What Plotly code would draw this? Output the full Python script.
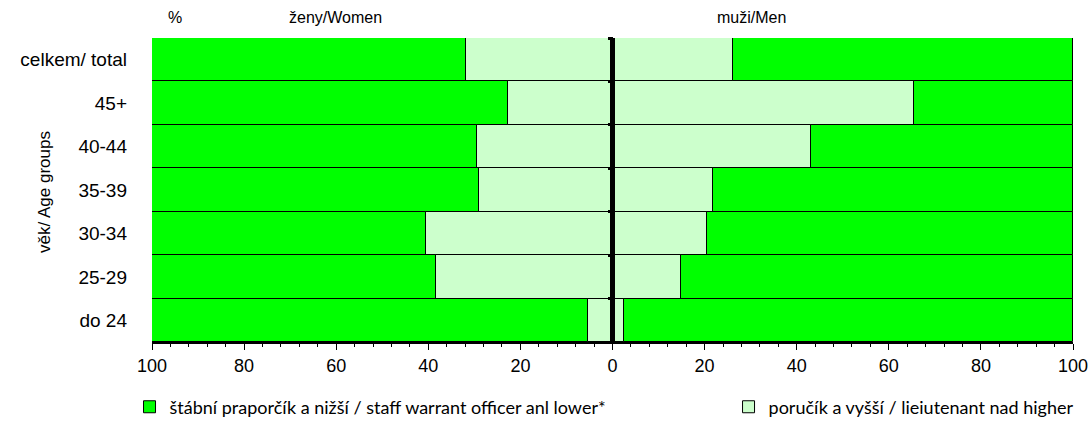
import plotly.graph_objects as go

categories = ["celkem/ total", "45+", "40-44", "35-39", "30-34", "25-29", "do 24"]
women_lieutenant = [31.9, 22.8, 29.4, 28.9, 40.4, 38.4, 5.4]
men_lieutenant = [26.1, 65.5, 43.0, 21.9, 20.6, 14.8, 2.4]
women_warrant = [100 - v for v in women_lieutenant]
men_warrant = [100 - v for v in men_lieutenant]
x_ticks = [-100, -80, -60, -40, -20, 0, 20, 40, 60, 80, 100]
x_tick_labels = [str(abs(v)) for v in x_ticks]

DARK = "#00FF00"
LIGHT = "#CCFFCC"
name_dark = "štábní praporčík a nižší / staff warrant officer anl lower*"
name_light = "poručík a vyšší / lieiutenant nad higher"

line = dict(color="black", width=1)
fig = go.Figure()
fig.add_trace(go.Bar(y=categories, x=[-v for v in women_lieutenant], orientation="h",
                     marker=dict(color=LIGHT, line=line), name=name_light,
                     legend="legend2", showlegend=True))
fig.add_trace(go.Bar(y=categories, x=[-v for v in women_warrant], orientation="h",
                     marker=dict(color=DARK, line=line), name=name_dark,
                     legend="legend", showlegend=True))
fig.add_trace(go.Bar(y=categories, x=men_lieutenant, orientation="h",
                     marker=dict(color=LIGHT, line=line), name=name_light,
                     showlegend=False))
fig.add_trace(go.Bar(y=categories, x=men_warrant, orientation="h",
                     marker=dict(color=DARK, line=line), name=name_dark,
                     showlegend=False))
# central axis line with ticks at category boundaries
boundaries = [i + 0.5 for i in range(-1, len(categories))]
fig.add_trace(go.Scatter(x=[0, 0], y=[-0.5, len(categories) - 0.5], yaxis="y2",
                         mode="lines", line=dict(color="black", width=5),
                         showlegend=False, hoverinfo="skip"))

legend_font = dict(family="Lato, Open Sans", size=18, color="black")
fig.update_layout(
    width=1092, height=421,
    margin=dict(l=152, r=19, t=38, b=79, autoexpand=False),
    paper_bgcolor="white", plot_bgcolor="white",
    barmode="relative", bargap=0,
    font=dict(family="Liberation Sans, Arial", color="black"),
    xaxis=dict(range=[-100, 100], tickvals=x_ticks, ticktext=x_tick_labels,
               ticks="outside", ticklen=6, tickcolor="black", tickwidth=1,
               minor=dict(dtick=4, ticks="outside", ticklen=3, tickcolor="black"),
               showline=True, linecolor="black", linewidth=2, automargin=False,
               showgrid=False, zeroline=False, tickfont=dict(size=18)),
    yaxis=dict(type="category", categoryarray=categories, range=[6.5, -0.5],
               showgrid=False, ticks="", tickfont=dict(size=19), automargin=False,
               ticklabelstandoff=24),
    yaxis2=dict(overlaying="y", anchor="free", position=0.5, range=[6.5, -0.5],
                tickvals=boundaries, showticklabels=False, ticks="outside",
                ticklen=5, tickwidth=3, tickcolor="black", showgrid=False,
                zeroline=False, showline=False, automargin=False),
    legend=dict(orientation="h", x=-0.0244, y=-0.214, xanchor="left", yanchor="middle",
                font=legend_font, bgcolor="rgba(0,0,0,0)"),
    legend2=dict(orientation="h", x=0.626, y=-0.214, xanchor="left", yanchor="middle",
                 font=legend_font, bgcolor="rgba(0,0,0,0)"),
    annotations=[
        dict(text="%", x=0.0255, y=1.069, xref="paper", yref="paper", showarrow=False,
             xanchor="center", yanchor="middle", font=dict(size=16)),
        dict(text="ženy/Women", x=0.199, y=1.069, xref="paper", yref="paper",
             xanchor="center", yanchor="middle", showarrow=False, font=dict(size=16)),
        dict(text="muži/Men", x=0.651, y=1.069, xref="paper", yref="paper",
             xanchor="center", yanchor="middle", showarrow=False, font=dict(size=16)),
        dict(text="věk/ Age groups", x=-0.1168, y=0.495, xref="paper", yref="paper",
             xanchor="center", yanchor="middle", showarrow=False, textangle=-90,
             font=dict(family="Liberation Sans Narrow, Liberation Sans", size=17)),
    ],
)

fig.write_html("out.html", config={"displayModeBar": False},
               post_script="document.body.style.margin='0px';document.body.style.overflow='hidden';")
